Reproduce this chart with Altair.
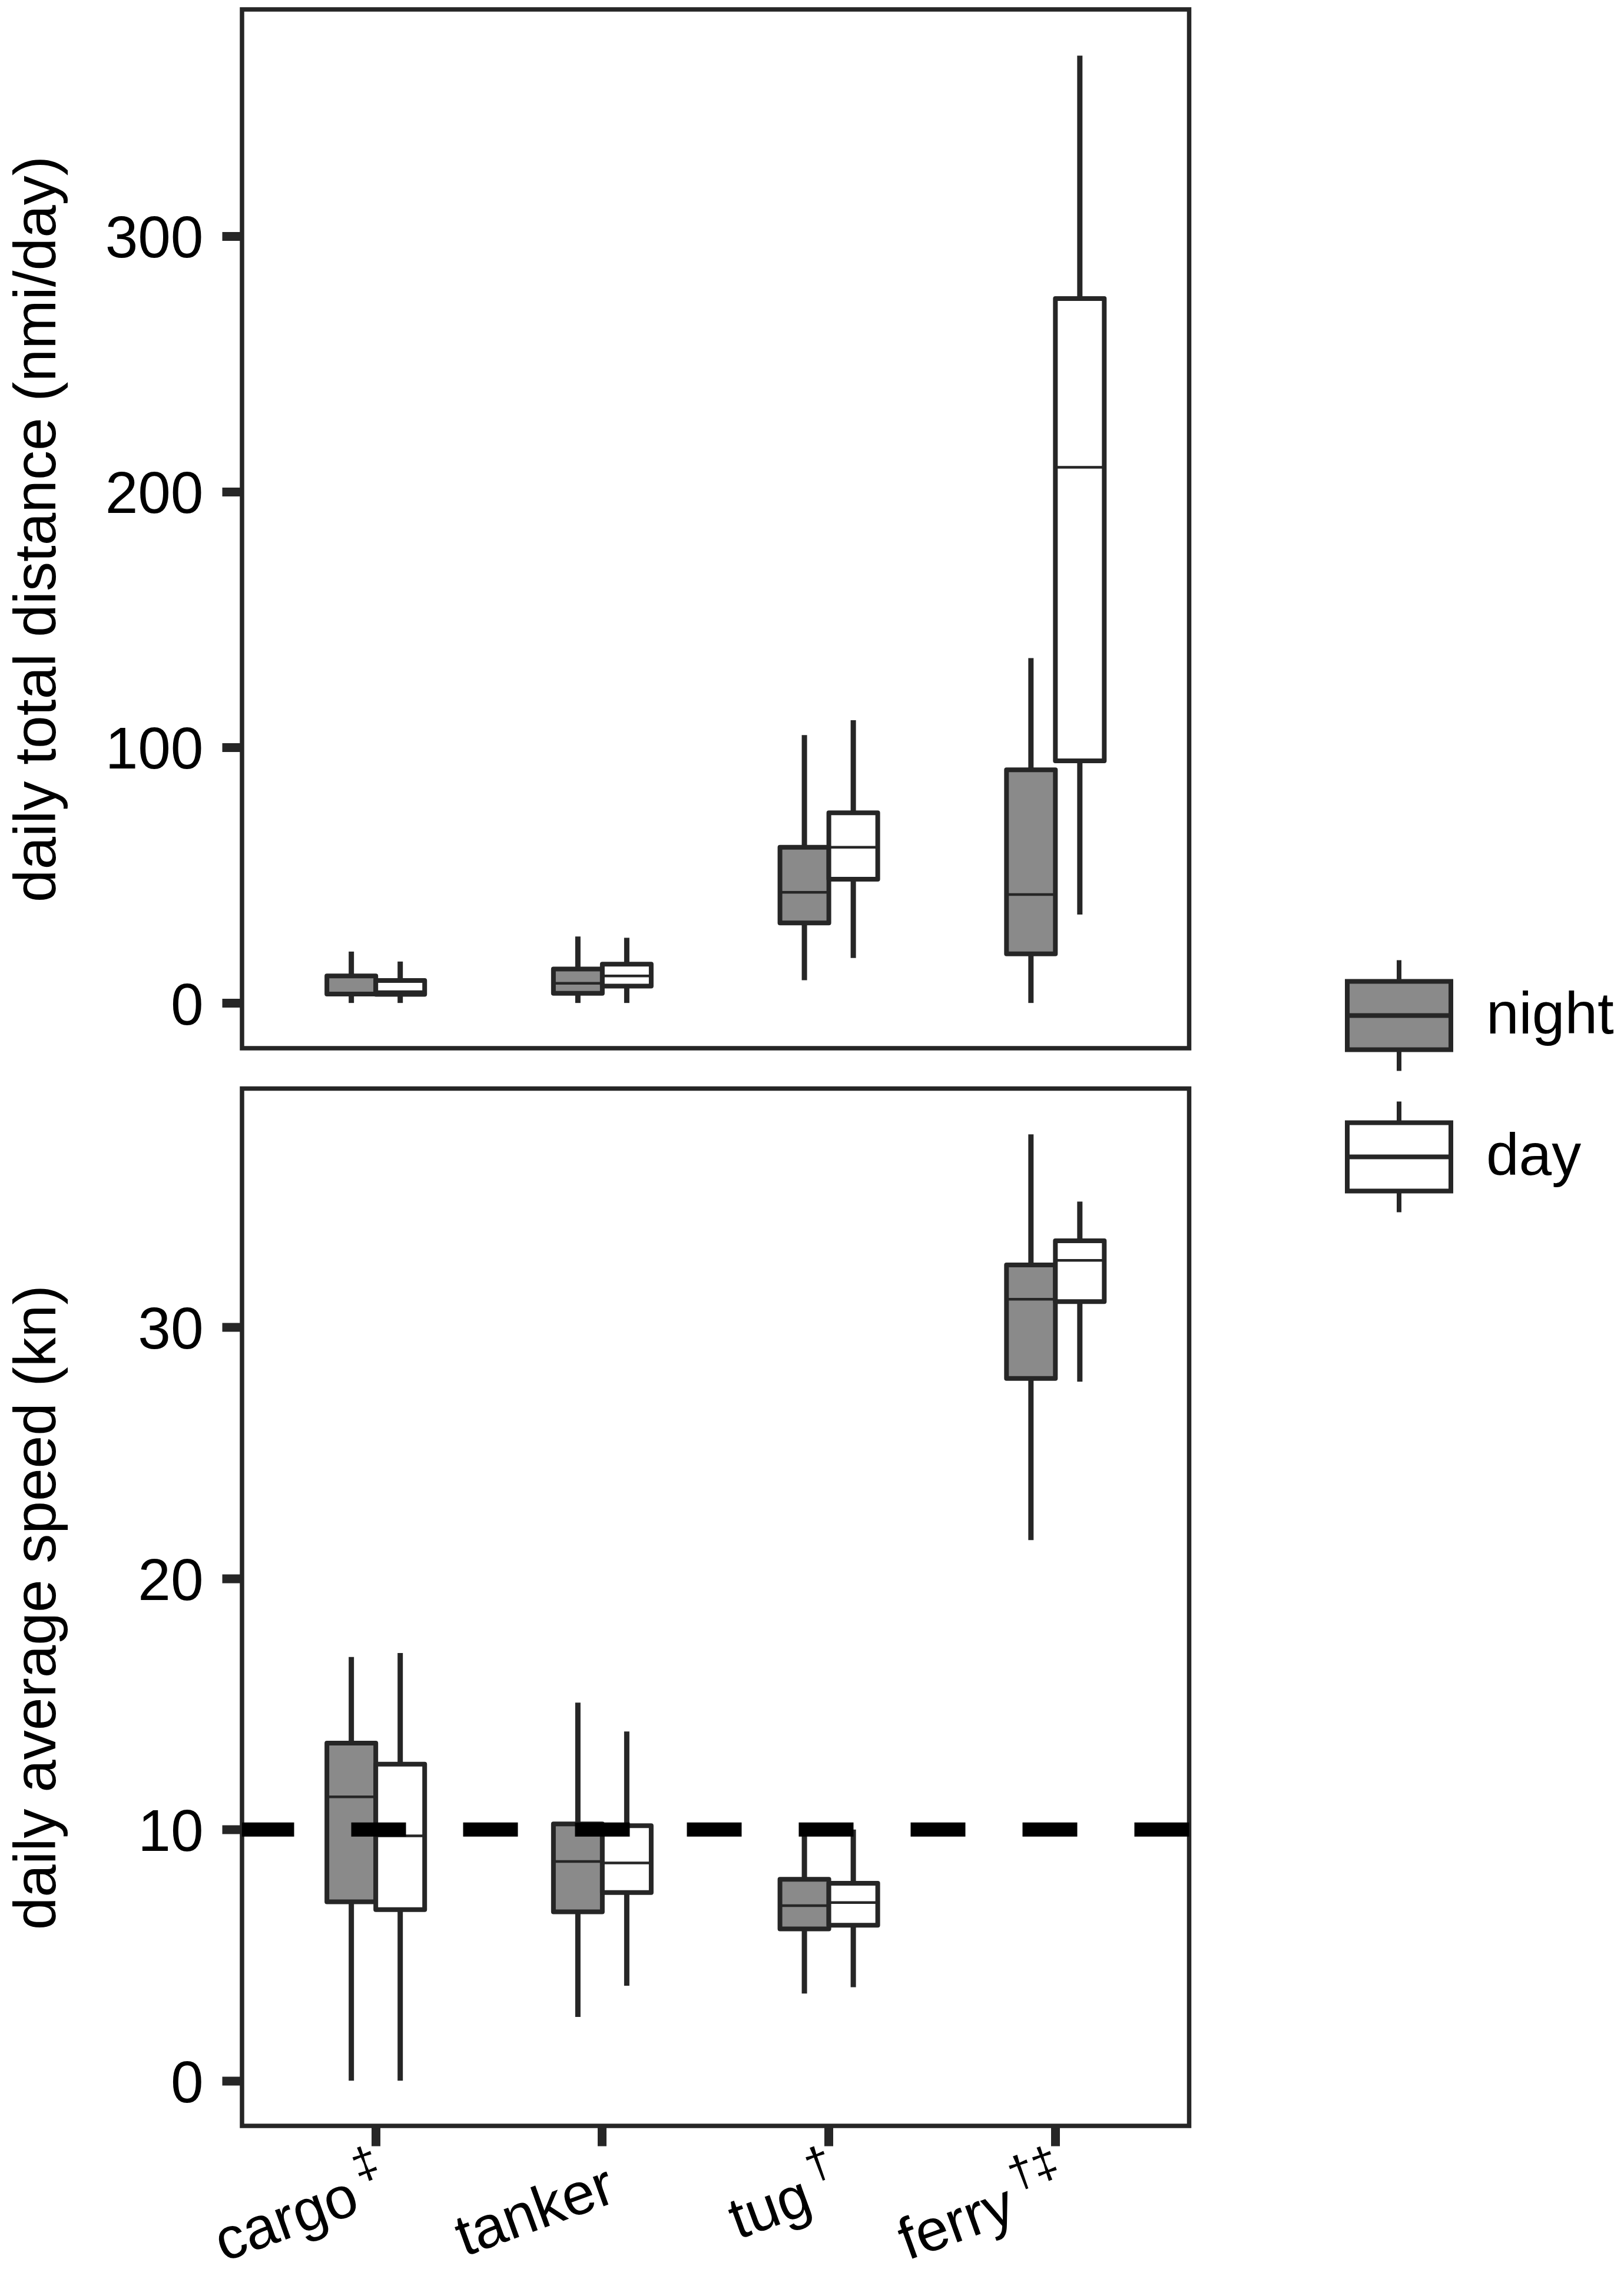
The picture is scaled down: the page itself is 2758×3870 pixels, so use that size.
import altair as alt
import pandas as pd

# ---- data ----
types = ["cargo", "tanker", "tug", "ferry"]
marks = ["‡", "", "†", "†‡"]
periods = ["night", "day"]

# order: cargo-night, cargo-day, tanker-night, tanker-day, tug-night, tug-day, ferry-night, ferry-day
dist_lower = [0.0, 0.0, 0.0, 0.0, 8.9, 17.6, 0.0, 34.6]
dist_q1 = [3.5, 3.4, 3.8, 6.6, 31.3, 48.4, 19.2, 94.7]
dist_median = [3.9, 4.4, 7.7, 10.6, 43.3, 60.9, 42.4, 209.5]
dist_q3 = [10.6, 8.8, 13.3, 15.2, 60.9, 74.4, 91.2, 275.5]
dist_upper = [20.1, 16.2, 26.0, 25.5, 104.8, 110.6, 134.9, 370.5]

speed_lower = [0.0, 0.0, 2.54, 3.78, 3.47, 3.72, 21.52, 27.83]
speed_q1 = [7.12, 6.81, 6.72, 7.49, 6.04, 6.19, 27.96, 31.02]
speed_median = [11.30, 9.75, 8.73, 8.67, 6.97, 7.09, 31.11, 32.66]
speed_q3 = [13.44, 12.60, 10.22, 10.15, 8.02, 7.86, 32.48, 33.44]
speed_upper = [16.87, 17.03, 15.05, 13.90, 9.9, 10.0, 37.68, 35.0]

speed_threshold = [10]

dist_ticks = [0, 100, 200, 300]
speed_ticks = [0, 10, 20, 30]

# ---- styling ----
FONT = "Liberation Sans"
INK = "#262626"
GREY = "#8a8a8a"
W = 1608.5
H_TOP = 1764
H_BOT = 1761.5
SUP_SIZE = 76


def frame(lower, q1, med, q3, upper):
    rows = []
    k = 0
    for t in types:
        for p in periods:
            rows.append(dict(type=t, period=p, lower=lower[k], q1=q1[k],
                             median=med[k], q3=q3[k], upper=upper[k]))
            k += 1
    return pd.DataFrame(rows)


df_dist = frame(dist_lower, dist_q1, dist_median, dist_q3, dist_upper)
df_speed = frame(speed_lower, speed_q1, speed_median, speed_q3, speed_upper)
df_labels = pd.DataFrame({"type": types, "mark": marks, "nmark": [len(m) for m in marks]})
df_ref = pd.DataFrame({"ref": speed_threshold})

x_scale = alt.Scale(domain=types, paddingInner=0.5684, paddingOuter=0.3747)
off_scale = alt.Scale(domain=periods, paddingInner=0, paddingOuter=0)

legend = alt.Legend(
    title=None,
    orient="none",
    legendX=1867,
    legendY=1610.5,
    symbolType="M-0.936,-0.617H0.936V0.617H-0.936Z M-0.936,0H0.936 M0,-0.617V-1 M0,0.617V1",
    symbolSize=35344,
    symbolStrokeWidth=8,
    symbolStrokeColor=INK,
    labelFontSize=100,
    labelFont=FONT,
    labelColor="black",
    labelOffset=50,
    rowPadding=20,
    labelLimit=0,
)
fill_enc = alt.Fill("period:N", scale=alt.Scale(domain=periods, range=[GREY, "#ffffff"]),
                    legend=legend)


def panel(df, domain, H, title, ticks, show_x, extra=None):
    if show_x:
        xaxis = alt.Axis(title=None, domain=False, grid=False, tickSize=34, tickWidth=15,
                         tickColor=INK, labels=False)
    else:
        xaxis = None
    X = alt.X("type:N", sort=types, scale=x_scale, axis=xaxis)
    XO = alt.XOffset("period:N", sort=periods, scale=off_scale)
    yaxis = alt.Axis(values=ticks, domain=False, grid=False, tickSize=34, tickWidth=15,
                     tickColor=INK, labelFontSize=100, labelFont=FONT, labelColor="black",
                     labelPadding=32, labelLimit=0, labelOffset=6,
                     titleFontSize=100, titleFont=FONT, titleFontWeight="normal",
                     titleColor="black", titleAngle=270, titleBaseline="alphabetic",
                     titleAlign="center", titleX=-318, titleY=H / 2, titleLimit=0)
    ysc = alt.Scale(domain=domain, nice=False, zero=False)

    def Y(field):
        return alt.Y(field, scale=ysc, axis=yaxis, title=title)

    base = alt.Chart(df)
    w_lo = base.mark_rule(color=INK, strokeWidth=9, strokeCap="butt").encode(
        x=X, xOffset=XO, y=Y("lower:Q"), y2="q1:Q")
    w_hi = base.mark_rule(color=INK, strokeWidth=9, strokeCap="butt").encode(
        x=X, xOffset=XO, y=Y("q3:Q"), y2="upper:Q")
    box = base.mark_bar(stroke=INK, strokeWidth=8, strokeJoin="round").encode(
        x=X, xOffset=XO, y=Y("q1:Q"), y2="q3:Q", fill=fill_enc)
    med = base.mark_bar(stroke=INK, strokeWidth=4.5, fillOpacity=0).encode(
        x=X, xOffset=XO, y=Y("median:Q"), y2="median:Q")
    layers = [w_lo, w_hi, box, med]
    if extra is not None:
        layers += extra(X, Y, H)
    return alt.layer(*layers).properties(width=W, height=H)


def bottom_extras(X, Y, H):
    ref = alt.Chart(df_ref).mark_rule(color="black", strokeWidth=24, strokeDash=[93, 97],
                                      strokeCap="butt").encode(y=Y("ref:Q"))
    out = [ref]
    # category names, shifted left to leave room for the superscript marks
    for n in sorted(set(df_labels["nmark"])):
        shift = 0 if n == 0 else n * 42 + 12
        out.append(
            alt.Chart(df_labels).transform_filter(alt.datum.nmark == int(n)).mark_text(
                angle=340, align="right", baseline="top", fontSize=100, font=FONT,
                color="black", dx=-shift).encode(
                x=X, y=alt.value(H + 53), text="type:N")
        )
    sup = alt.Chart(df_labels).mark_text(angle=340, align="right", baseline="alphabetic",
                                         fontSize=SUP_SIZE, font=FONT, color="black",
                                         dy=29).encode(
        x=X, y=alt.value(H + 53), text="mark:N")
    out.append(sup)
    return out


top = panel(df_dist, [-17.7, 388.6], H_TOP, "daily total distance (nmi/day)", dist_ticks, False)
bottom = panel(df_speed, [-1.8, 39.5], H_BOT, "daily average speed (kn)", speed_ticks, True,
               extra=bottom_extras)

chart = alt.vconcat(top, bottom, spacing=60.5).resolve_scale(
    y="independent", x="independent", fill="shared"
).properties(
    padding={"left": 1, "top": 4, "right": 0, "bottom": 0}
).configure_view(
    stroke=INK, strokeWidth=7.5
)

chart.save("out.html", embed_options={"renderer": "svg", "actions": False})
